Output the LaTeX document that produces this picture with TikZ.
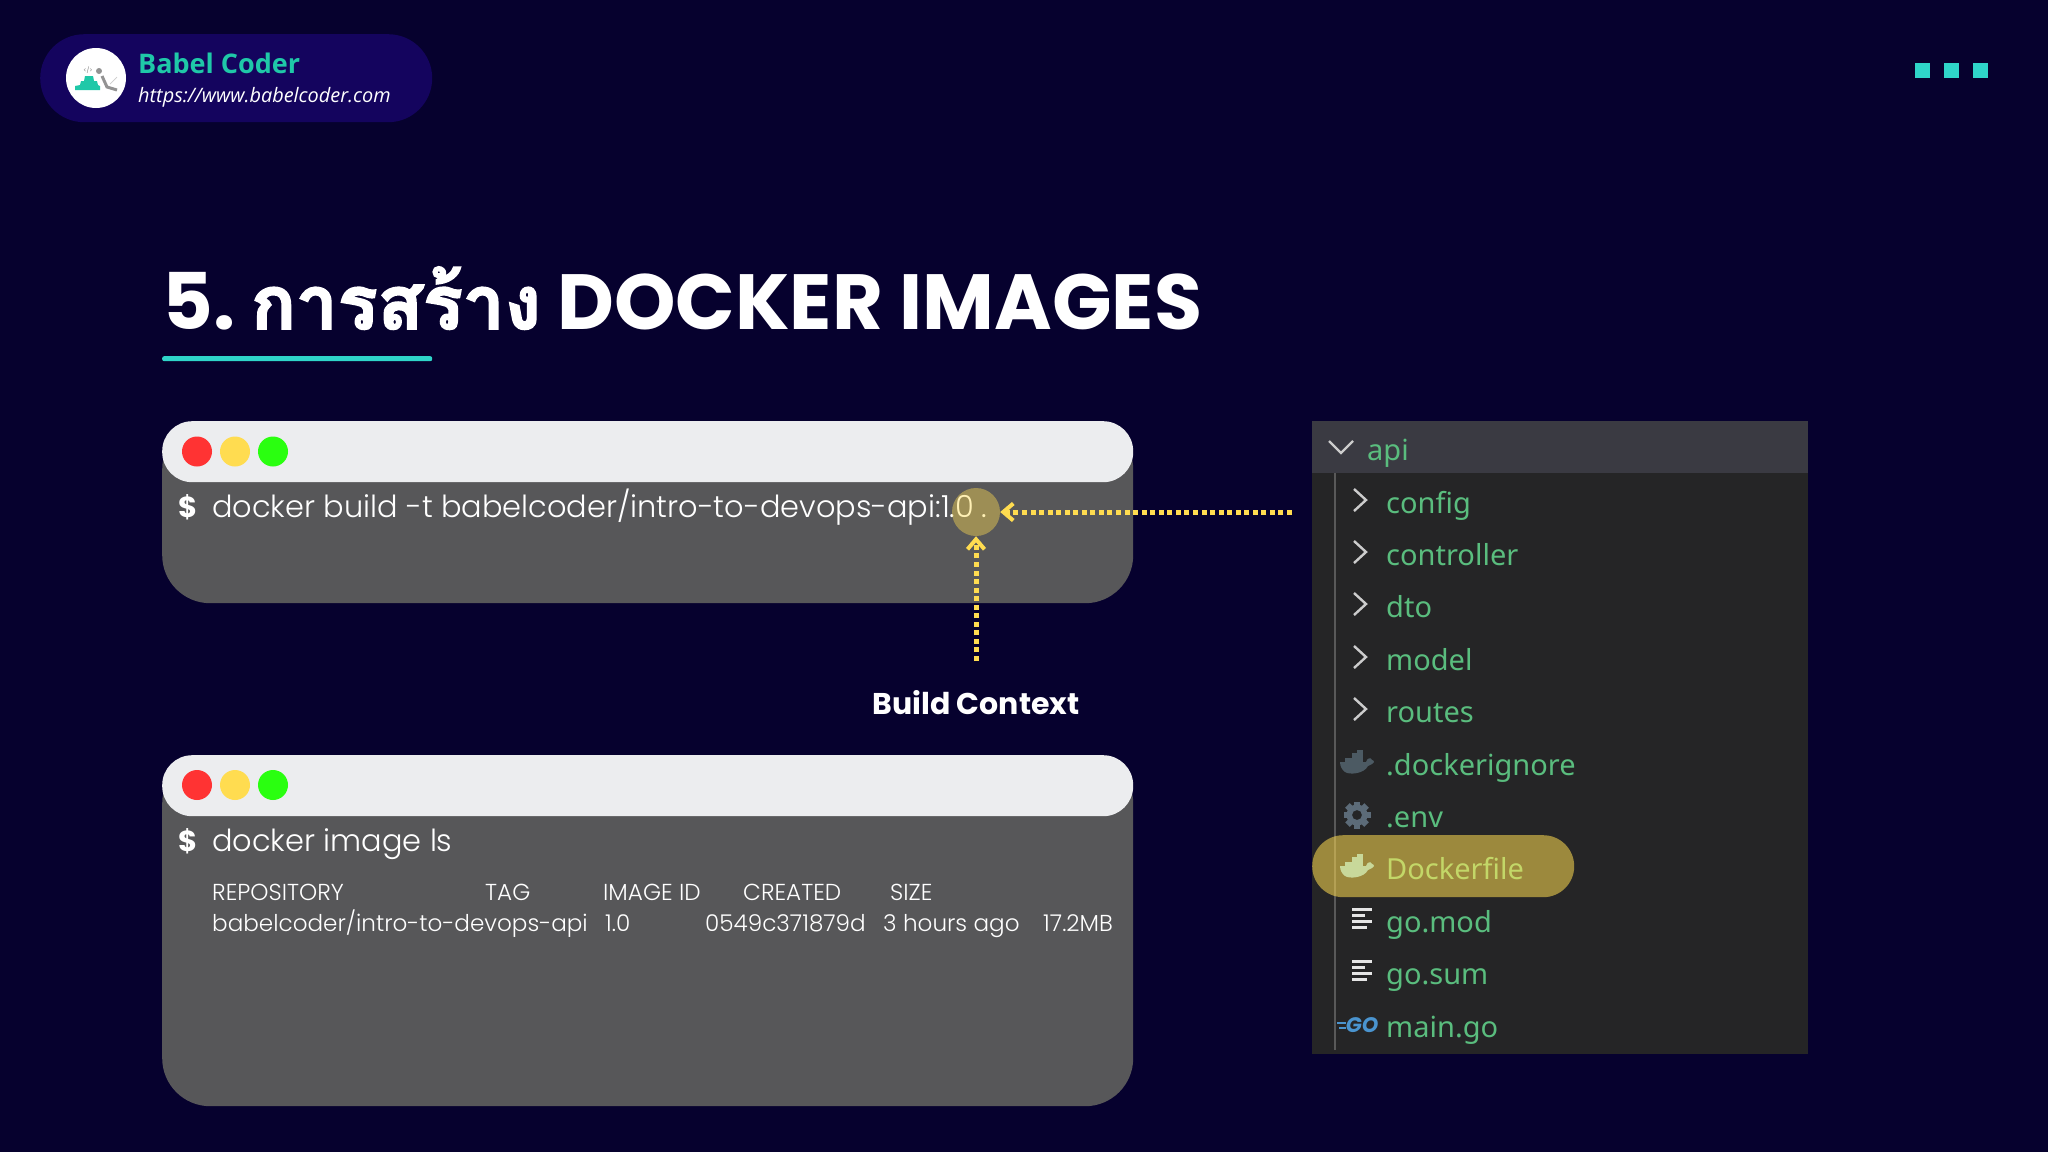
\documentclass[tikz,border=0pt]{standalone}
\usepackage{fontspec}
\usetikzlibrary{arrows.meta}
\setmainfont{Poppins}
\newfontfamily\poplight{Poppins Light}
\newfontfamily\thaifont[Script=Thai,FakeBold=2.5]{Loma}
\newfontfamily\opensans{Open Sans}
\newfontfamily\filefont{Noto Sans}
\newcommand{\fs}[1]{\fontsize{#1}{#1}\selectfont}
\definecolor{bgc}{HTML}{06012E}
\definecolor{pillc}{HTML}{14045E}
\definecolor{teal}{HTML}{2FD5C9}
\definecolor{brand}{HTML}{1FC8A8}
\definecolor{termc}{HTML}{575759}
\definecolor{barc}{HTML}{ECEDEF}
\definecolor{yel}{HTML}{FFDC50}
\definecolor{redl}{HTML}{FF3333}
\definecolor{greenl}{HTML}{2AFF10}
\definecolor{panel}{HTML}{252526}
\definecolor{panelhead}{HTML}{3A3A42}
\definecolor{filetxt}{HTML}{5ABD7E}
\definecolor{hltxt}{HTML}{C3D768}
\definecolor{hlwhale}{HTML}{C8D89A}
\definecolor{whalec}{HTML}{4C5A63}
\definecolor{gearc}{HTML}{5C6B78}
\definecolor{goc}{HTML}{4A94CF}
\tikzset{
  txt/.style={inner sep=0pt,anchor=base west,text=white},
  cmd/.style={txt,font=\poplight\fs{30.4}},
  tbl/.style={txt,font=\poplight\fs{23.1}},
  dollar/.style={txt,font=\bfseries\fs{29}},
  ftext/.style={inner sep=0pt,anchor=base west,text=filetxt,font=\filefont\fs{29}},
  termbody/.style={fill=termc,anchor=north west,inner sep=0pt,minimum width=971pt,rounded corners=48pt},
  termbar/.style={fill=barc,anchor=north west,inner sep=0pt,minimum width=971pt,minimum height=61pt,rounded corners=30pt},
  light/.style={circle,inner sep=0pt,minimum size=30pt},
  sq/.style={fill=teal,inner sep=0pt,minimum size=15pt},
  pointer/.style={yel,line width=5pt,dash pattern=on 5pt off 3.55pt,
    -{Straight Barb[length=10pt,width=17pt,line width=4pt]}},
  chev/.style={draw=black!20,line width=2.4pt,fill=none},
  iconbar/.style={draw=black!10,line width=3pt},
  whale/.pic={
    \fill[pic actions] (-17,-2) -- (9,-2) .. controls (10,-6) and (14,-7) .. (15,-4)
      .. controls (16,-4) and (17,-3) .. (17,-2)
      .. controls (15,1) and (12,1) .. (11,2) .. controls (7,10) and (-8,11) .. (-12,8) .. controls (-15,6) and (-17,2) .. (-17,-2) -- cycle;
    \fill[pic actions] (-12,-1) rectangle (6,-6.5);
    \fill[pic actions] (-5.5,-6) rectangle (6,-11);
    \fill[pic actions] (0,-10) rectangle (6,-14.5);
  },
  gear/.pic={
    \foreach \a in {0,45,...,315}
      \fill[gearc,rotate=\a] (-3.2,-13.5) rectangle (3.2,-8);
    \fill[gearc,even odd rule] (0,0) circle (10.5) (0,0) circle (5);
  },
  listicon/.pic={
    \draw[iconbar] (0,0) -- (20,0);
    \draw[iconbar] (0,6.2) -- (13,6.2);
    \draw[iconbar] (0,12.4) -- (20,12.4);
    \draw[iconbar] (0,18.6) -- (15,18.6);
  }
}
\begin{document}
\begin{tikzpicture}[x=1pt,y=-1pt]
\useasboundingbox (0,0) rectangle (2048,1152);
\fill[bgc] (0,0) rectangle (2048,1152);

% brand pill
\node[fill=pillc,rounded corners=44pt,anchor=north west,inner sep=0pt,minimum width=392pt,minimum height=88pt] (pill) at (40,34) {};
\node[circle,fill=white,inner sep=0pt,minimum size=60pt] (logo) at (96,78) {};
\fill[brand] (75,90) -- (75,86) -- (80,85) -- (81,81) -- (84,81) -- (85,76) -- (93,76) -- (94,81) -- (97,81) -- (98,85) -- (100,86) -- (100,90) -- cycle;
\fill[gray!85] (99,71) circle (3);
\draw[gray!85,line width=3pt] (102,76) -- (107,87) -- (117,90);
\draw[gray!40,line width=.7pt] (110,84) -- (117,77);
\node[inner sep=0pt,text=gray,font=\fs{6}] (logotag) at (88,70.5) {</>};
\node[txt,text=brand,font=\opensans\bfseries\fs{27}] (brandname) at (138,73) {Babel Coder};
\node[txt,font=\opensans\itshape\fs{19.9}] (brandurl) at (138,102) {https://www.babelcoder.com};

% top right squares
\node[sq] (s1) at (1922,70) {};
\node[sq] (s2) at (1951,70) {};
\node[sq] (s3) at (1980,70) {};

% title
\node[txt,font=\bfseries\fs{78.2}] (title) at (162,329) {5.\hspace{16pt}{\thaifont\fs{74.3}การสร้าง} DOCKER IMAGES};
\node[fill=teal,anchor=north west,inner sep=0pt,minimum width=270pt,minimum height=5pt,rounded corners=2pt] (underline) at (162,356) {};

% terminal 1
\node[termbody,minimum height=182pt] (t1) at (162,421) {};
\node[termbar] (b1) at (162,421) {};
\node[light,fill=redl] (t1r) at (197,451.5) {};
\node[light,fill=yel] (t1y) at (235,451.5) {};
\node[light,fill=greenl] (t1g) at (273,451.5) {};
\node[dollar] (d1) at (178,517) {\$};
\node[cmd] (c1) at (212,517) {docker build -t babelcoder/intro-to-devops-api:1.0\hspace{7pt}.};

% terminal 2
\node[termbody,minimum height=351pt] (t2) at (162,755) {};
\node[termbar] (b2) at (162,755) {};
\node[light,fill=redl] (t2r) at (197,785) {};
\node[light,fill=yel] (t2y) at (235,785) {};
\node[light,fill=greenl] (t2g) at (273,785) {};
\node[dollar] (d2) at (178,851) {\$};
\node[cmd] (c2) at (212,851) {docker image ls};
\node[tbl] (h1) at (212,900) {REPOSITORY};
\node[tbl] (h2) at (485,900) {TAG};
\node[tbl] (h3) at (603,900) {IMAGE ID};
\node[tbl] (h4) at (743,900) {CREATED};
\node[tbl] (h5) at (890,900) {SIZE};
\node[tbl] (v1) at (212,931) {babelcoder/intro-to-devops-api};
\node[tbl] (v2) at (605,931) {1.0};
\node[tbl] (v3) at (705,931) {0549c371879d};
\node[tbl] (v4) at (883,931) {3 hours ago};
\node[tbl] (v5) at (1043,931) {17.2MB};

% build context marker
\node[circle,fill=yel,fill opacity=.42,inner sep=0pt,minimum size=48pt] (spot) at (976,512) {};
\node[txt,anchor=base,font=\bfseries\fs{30}] (ctx) at (976,714) {Build Context};
\coordinate (hfrom) at (1292,512);
\coordinate (vfrom) at (976,661);
\draw[pointer] (hfrom) -- (spot);
\draw[pointer] (vfrom) -- (spot);

% file panel
\node[fill=panel,anchor=north west,inner sep=0pt,minimum width=496pt,minimum height=633pt] (panel) at (1312,421) {};
\node[fill=panelhead,anchor=north west,inner sep=0pt,minimum width=496pt,minimum height=52pt] (phead) at (1312,421) {};
\coordinate (gtop) at (1335,473);
\coordinate (gbot) at (1335,1050);
\draw[gray!70!black,line width=1.5pt] (gtop) -- (gbot);
\draw[chev] (1329,441) -- (1341,453) -- (1353,441);
\node[ftext] (fapi) at (1367,460) {api};
\foreach \nm/\lbl/\base in {fconfig/config/513,fcontroller/controller/565,fdto/dto/617,fmodel/model/670,froutes/routes/722}{
  \node[ftext] (\nm) at (1386,\base) {\lbl};
  \draw[chev] (1354,\base-24) -- (1366,\base-13) -- (1354,\base-2);
}
\node[ftext] (fignore) at (1386,775) {.dockerignore};
\node[ftext] (fenv) at (1386,827) {.env};
\node[ftext] (fmod) at (1386,932) {go.mod};
\node[ftext] (fsum) at (1386,984) {go.sum};
\node[ftext] (fmain) at (1386,1037) {main.go};
\pic[whalec] at (1357,764) {whale};
\pic at (1357,815) {gear};
\pic at (1352,909) {listicon};
\pic at (1352,961) {listicon};
\draw[goc,line width=1.4pt] (1337,1023) -- (1346,1023) (1339,1028) -- (1346,1028);
\node[inner sep=0pt,text=goc,font=\bfseries\itshape\fs{21}] (goicon) at (1362,1025) {GO};
\node[fill=yel,fill opacity=.55,rounded corners=31pt,anchor=north west,inner sep=0pt,minimum width=262pt,minimum height=62pt] (hilite) at (1312,835) {};
\pic[hlwhale] at (1357,868) {whale};
\node[ftext,text=hltxt] (fdocker) at (1386,879) {Dockerfile};
\end{tikzpicture}
\end{document}
